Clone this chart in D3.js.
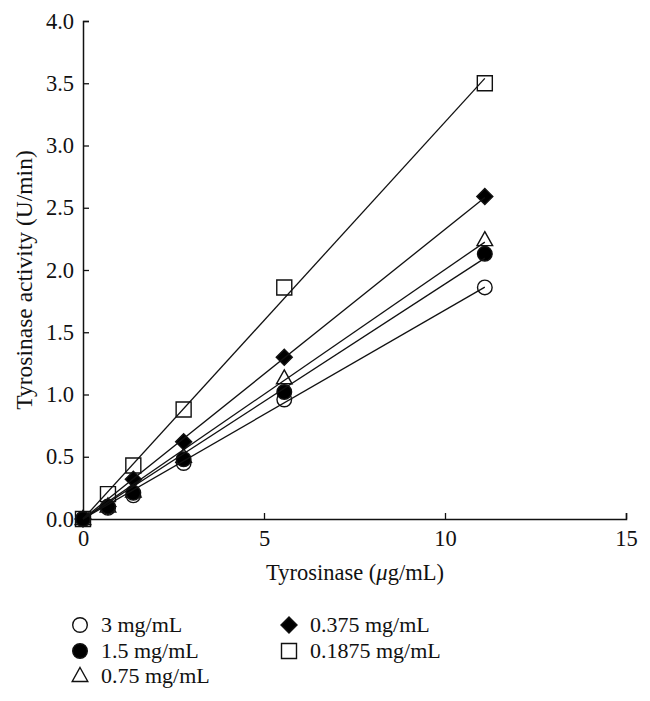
<!DOCTYPE html>
<html><head><meta charset="utf-8">
<script src="https://cdn.jsdelivr.net/npm/d3@7"></script>
<style>body{margin:0;background:#fff}svg{display:block}text{font-family:"Liberation Serif","DejaVu Serif",serif;fill:#111}</style>
</head><body><svg id="c" width="650" height="701"></svg>
<script>
const xValues = [0, 0.69, 1.39, 2.78, 5.56, 11.1];
const series3 = [0, 0.09, 0.19, 0.45, 0.96, 1.86];
const series15 = [0, 0.10, 0.21, 0.48, 1.02, 2.13];
const series075 = [0, 0.10, 0.22, 0.50, 1.13, 2.24];
const series0375 = [0, 0.10, 0.32, 0.62, 1.30, 2.59];
const series01875 = [0, 0.20, 0.43, 0.88, 1.86, 3.50];
const seriesNames = ["3 mg/mL", "1.5 mg/mL", "0.75 mg/mL", "0.375 mg/mL", "0.1875 mg/mL"];
const xTicks = [0, 5, 10, 15];
const yTicks = [0, 0.5, 1, 1.5, 2, 2.5, 3, 3.5, 4];

const series = [
  {name: seriesNames[0], vals: series3, sym: "circle", fill: "#fff"},
  {name: seriesNames[1], vals: series15, sym: "circle", fill: "#000"},
  {name: seriesNames[2], vals: series075, sym: "triangle", fill: "#fff"},
  {name: seriesNames[3], vals: series0375, sym: "diamond", fill: "#000"},
  {name: seriesNames[4], vals: series01875, sym: "square", fill: "#fff"}
];

const svg = d3.select("#c");
const x = d3.scaleLinear().domain([0, 15]).range([83, 626]);
const y = d3.scaleLinear().domain([0, 4]).range([519, 21]);

function symPath(sym) {
  const p = d3.path();
  if (sym === "circle") { p.arc(0, 0, 7.3, 0, 2 * Math.PI); }
  else if (sym === "square") { p.rect(-7.5, -7.5, 15, 15); }
  else if (sym === "diamond") { p.moveTo(0, -8); p.lineTo(8, 0); p.lineTo(0, 8); p.lineTo(-8, 0); p.closePath(); }
  else if (sym === "triangle") { p.moveTo(0, -8.5); p.lineTo(7.8, 5.5); p.lineTo(-7.8, 5.5); p.closePath(); }
  return p.toString();
}

// axes
const xAxis = d3.axisBottom(x).tickValues(xTicks).tickSize(-6).tickPadding(11).tickFormat(d3.format("d"));
const gx = svg.append("g").attr("transform", "translate(0,519)").call(xAxis);
const yAxis = d3.axisLeft(y).tickValues(yTicks).tickSize(-6).tickPadding(9).tickFormat(d3.format(".1f"));
const gy = svg.append("g").attr("transform", "translate(83,0)").call(yAxis);
[gx, gy].forEach(g => {
  g.select(".domain").attr("stroke", "#111").attr("stroke-width", 1.5);
  g.selectAll(".tick line").attr("stroke", "#111").attr("stroke-width", 1.3);
  g.selectAll(".tick text").style("font-family", '"Liberation Serif",serif').style("font-size", "22.5px").attr("fill", "#111");
});

// markers (by draw order)
const order = [4, 0, 2, 3, 1];
order.forEach(i => {
  const s = series[i];
  svg.append("g").selectAll("path").data(xValues.map((xv, j) => [xv, s.vals[j]])).join("path")
    .attr("d", symPath(s.sym))
    .attr("transform", d => `translate(${x(d[0])},${y(d[1])})`)
    .attr("fill", s.fill).attr("stroke", "#111").attr("stroke-width", 1.4);
});

// fitted lines (least squares through origin)
series.forEach(s => {
  const b = d3.sum(xValues, (xv, j) => xv * s.vals[j]) / d3.sum(xValues, xv => xv * xv);
  const x0 = xValues[0], x1 = xValues[xValues.length - 1];
  svg.append("line")
    .attr("x1", x(x0)).attr("y1", y(b * x0))
    .attr("x2", x(x1)).attr("y2", y(b * x1))
    .attr("stroke", "#111").attr("stroke-width", 1.3);
});

// axis titles
svg.append("text").attr("x", 355).attr("y", 580).attr("text-anchor", "middle").style("font-size", "22.5px")
  .html('Tyrosinase (<tspan font-style="italic">μ</tspan>g/mL)');
svg.append("text").attr("transform", "translate(32,280) rotate(-90)").attr("text-anchor", "middle").style("font-size", "23.5px")
  .text("Tyrosinase activity (U/min)");

// legend
const legendPos = [[80, 625], [80, 651], [80, 676], [289, 625], [289, 651]];
series.forEach((s, i) => {
  const [lx, ly] = legendPos[i];
  svg.append("path").attr("d", symPath(s.sym)).attr("transform", `translate(${lx},${ly})`)
    .attr("fill", s.fill).attr("stroke", "#111").attr("stroke-width", 1.4);
  svg.append("text").attr("x", lx + 21).attr("y", ly + 7).style("font-size", "22px").text(s.name);
});
</script></body></html>
